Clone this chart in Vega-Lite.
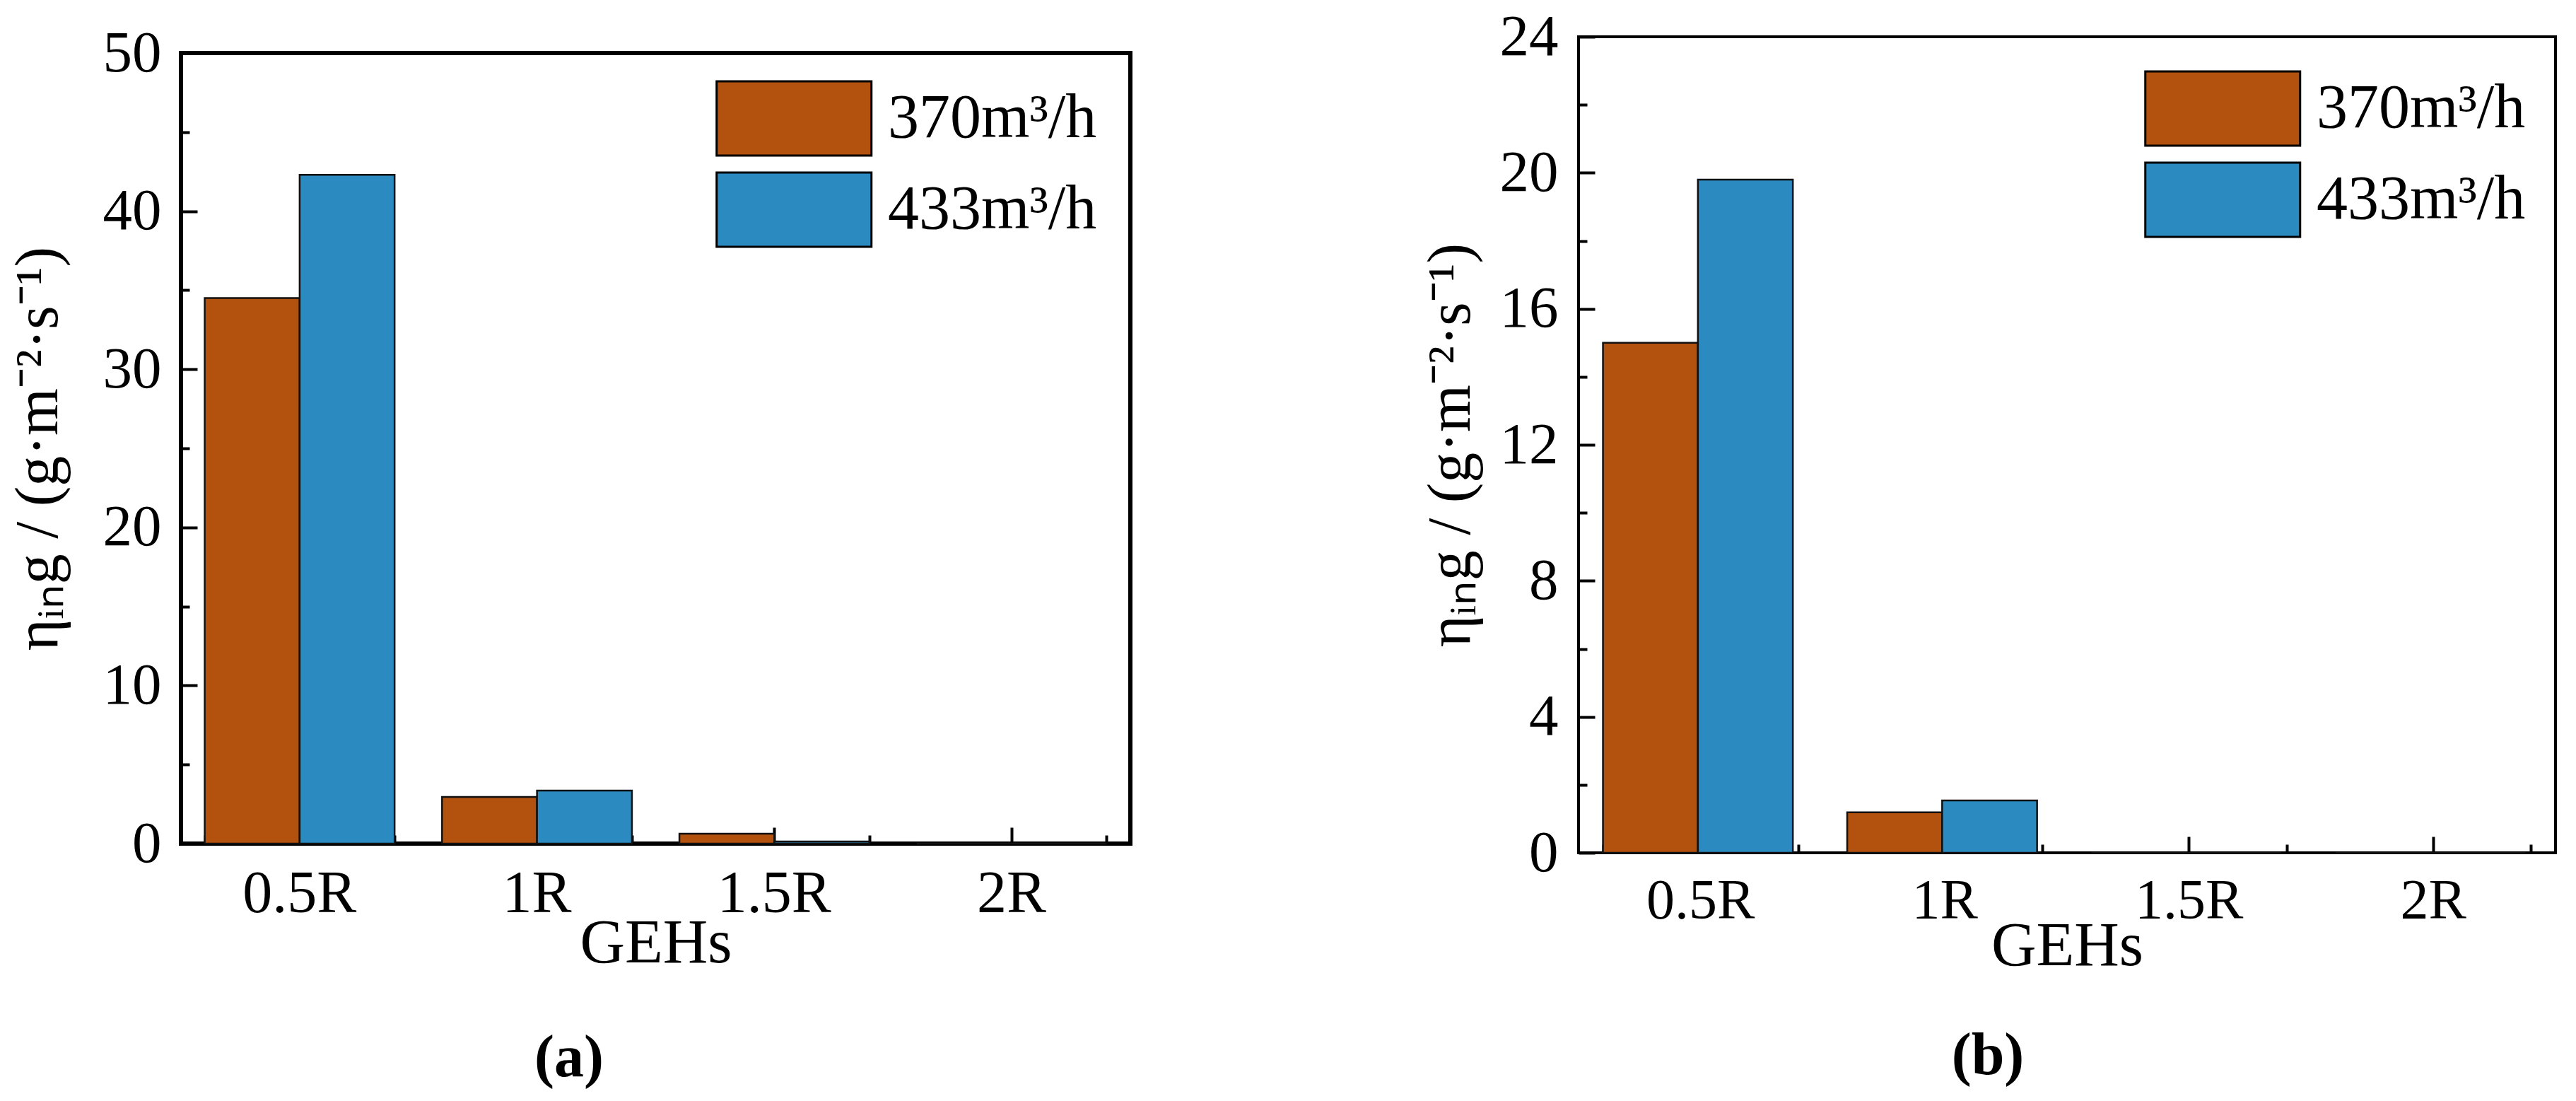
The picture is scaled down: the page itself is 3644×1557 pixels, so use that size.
{
  "$schema": "https://vega.github.io/schema/vega-lite/v6.json",
  "padding": {"left": 8, "top": 9, "right": 0, "bottom": 0},
  "data": {
    "values": [
      {"panel": "a", "geh": "0.5R", "flow": "370m³/h", "value": 34.5},
      {"panel": "a", "geh": "0.5R", "flow": "433m³/h", "value": 42.3},
      {"panel": "a", "geh": "1R", "flow": "370m³/h", "value": 2.95},
      {"panel": "a", "geh": "1R", "flow": "433m³/h", "value": 3.35},
      {"panel": "a", "geh": "1.5R", "flow": "370m³/h", "value": 0.63},
      {"panel": "a", "geh": "1.5R", "flow": "433m³/h", "value": 0.13},
      {"panel": "a", "geh": "2R", "flow": "370m³/h", "value": 0},
      {"panel": "a", "geh": "2R", "flow": "433m³/h", "value": 0},
      {"panel": "b", "geh": "0.5R", "flow": "370m³/h", "value": 15.0},
      {"panel": "b", "geh": "0.5R", "flow": "433m³/h", "value": 19.8},
      {"panel": "b", "geh": "1R", "flow": "370m³/h", "value": 1.19},
      {"panel": "b", "geh": "1R", "flow": "433m³/h", "value": 1.54},
      {"panel": "b", "geh": "1.5R", "flow": "370m³/h", "value": 0},
      {"panel": "b", "geh": "1.5R", "flow": "433m³/h", "value": 0},
      {"panel": "b", "geh": "2R", "flow": "370m³/h", "value": 0},
      {"panel": "b", "geh": "2R", "flow": "433m³/h", "value": 0}
    ]
  },
  "align": "none",
  "spacing": 405,
  "resolve": {"scale": {"color": "independent"}},
  "hconcat": [
    {
      "bounds": "flush",
      "spacing": 0,
      "resolve": {"scale": {"color": "independent"}},
      "vconcat": [
        {
          "width": 1343,
          "height": 23,
          "data": {"values": []},
          "mark": "point",
          "encoding": {},
          "view": {"stroke": null}
        },
        {
          "width": 1343,
          "height": 1118,
          "view": {"stroke": "black", "strokeWidth": 6},
          "title": {"text": "(a)", "orient": "bottom", "anchor": "middle", "frame": "bounds", "fontSize": 84, "fontWeight": "bold", "offset": 78, "color": "black"},
          "transform": [{"filter": "datum.panel === 'a'"}],
          "layer": [
            {
              "mark": {"type": "bar", "stroke": "#111111", "strokeWidth": 2.5},
              "encoding": {
                "x": {"field": "geh", "type": "nominal", "sort": ["0.5R", "1R", "1.5R", "2R"],
                  "scale": {"paddingInner": 0.2, "paddingOuter": 0.1},
                  "axis": {"orient": "bottom", "title": "GEHs", "labelAngle": 0, "domain": false, "tickSize": -23, "tickWidth": 4, "tickColor": "black",
                    "labelPadding": 53, "labelFontSize": 84, "labelColor": "black", "titleFontSize": 88, "titleFontWeight": "normal", "titleColor": "black", "titlePadding": -16}},
                "xOffset": {"field": "flow", "type": "nominal", "scale": {"paddingInner": 0, "paddingOuter": 0}},
                "y": {"field": "value", "type": "quantitative", "scale": {"domain": [0, 50], "nice": false},
                  "axis": {"orient": "left", "values": [0, 10, 20, 30, 40, 50], "grid": false, "domain": false, "tickSize": -23, "tickWidth": 4, "tickColor": "black",
                    "labelPadding": 51, "labelFontSize": 83, "labelColor": "black", "labelOverlap": false,
                    "title": "ηᵢₙg / (g·m⁻²·s⁻¹)", "titleFontSize": 86, "titleFontWeight": "normal", "titleColor": "black", "titlePadding": 47}},
                "color": {"field": "flow", "type": "nominal",
                  "scale": {"domain": ["370m³/h", "433m³/h"], "range": ["#B3510E", "#2B8AC0"]},
                  "legend": {"title": null, "orient": "none", "legendX": 756, "legendY": 36, "padding": 0, "labelFontSize": 88, "labelColor": "black", "labelLimit": 600,
                    "symbolType": "M-1,-0.96H3V0.96H-1Z", "symbolSize": 11990, "symbolStrokeColor": "black", "symbolStrokeWidth": 3, "symbolOpacity": 1,
                    "labelOffset": 131, "rowPadding": 10}}
              }
            },
            {
              "mark": {"type": "bar", "opacity": 0},
              "encoding": {
                "x": {"field": "geh", "type": "nominal", "sort": ["0.5R", "1R", "1.5R", "2R"],
                  "axis": {"orient": "bottom", "title": null, "labels": false, "domain": false, "tickBand": "extent", "tickSize": -12, "tickWidth": 4, "tickColor": "black"}},
                "xOffset": {"field": "flow", "type": "nominal"},
                "y": {"field": "value", "type": "quantitative",
                  "axis": {"orient": "left", "title": null, "values": [5, 15, 25, 35, 45], "labels": false, "grid": false, "domain": false, "tickSize": -12, "tickWidth": 4, "tickColor": "black"}}
              }
            }
          ],
          "resolve": {"axis": {"x": "independent", "y": "independent"}}
        }
      ]
    },
    {
      "resolve": {"scale": {"color": "independent"}},
      "vconcat": [
        {
          "width": 1382,
          "height": 1154,
          "view": {"stroke": "black", "strokeWidth": 4},
          "title": {"text": "(b)", "orient": "bottom", "anchor": "middle", "frame": "bounds", "fontSize": 84, "fontWeight": "bold", "offset": 71, "color": "black"},
          "transform": [{"filter": "datum.panel === 'b'"}],
          "layer": [
            {
              "mark": {"type": "bar", "stroke": "#111111", "strokeWidth": 2.5},
              "encoding": {
                "x": {"field": "geh", "type": "nominal", "sort": ["0.5R", "1R", "1.5R", "2R"],
                  "scale": {"paddingInner": 0.2, "paddingOuter": 0.1},
                  "axis": {"orient": "bottom", "title": "GEHs", "labelAngle": 0, "domain": false, "tickSize": -23, "tickWidth": 4, "tickColor": "black",
                    "labelPadding": 52, "labelFontSize": 80, "labelColor": "black", "titleFontSize": 88, "titleFontWeight": "normal", "titleColor": "black", "titlePadding": -20}},
                "xOffset": {"field": "flow", "type": "nominal", "scale": {"paddingInner": 0, "paddingOuter": 0}},
                "y": {"field": "value", "type": "quantitative", "scale": {"domain": [0, 24], "nice": false},
                  "axis": {"orient": "left", "values": [0, 4, 8, 12, 16, 20, 24], "grid": false, "domain": false, "tickSize": -23, "tickWidth": 4, "tickColor": "black",
                    "labelPadding": 52, "labelFontSize": 83, "labelColor": "black", "labelOverlap": false,
                    "title": "ηᵢₙg / (g·m⁻²·s⁻¹)", "titleFontSize": 86, "titleFontWeight": "normal", "titleColor": "black", "titlePadding": 25}},
                "color": {"field": "flow", "type": "nominal",
                  "scale": {"domain": ["370m³/h", "433m³/h"], "range": ["#B3510E", "#2B8AC0"]},
                  "legend": {"title": null, "orient": "none", "legendX": 800, "legendY": 45, "padding": 0, "labelFontSize": 88, "labelColor": "black", "labelLimit": 600,
                    "symbolType": "M-1,-0.96H3V0.96H-1Z", "symbolSize": 11990, "symbolStrokeColor": "black", "symbolStrokeWidth": 3, "symbolOpacity": 1,
                    "labelOffset": 131, "rowPadding": 10}}
              }
            },
            {
              "mark": {"type": "bar", "opacity": 0},
              "encoding": {
                "x": {"field": "geh", "type": "nominal", "sort": ["0.5R", "1R", "1.5R", "2R"],
                  "axis": {"orient": "bottom", "title": null, "labels": false, "domain": false, "tickBand": "extent", "tickSize": -12, "tickWidth": 4, "tickColor": "black"}},
                "xOffset": {"field": "flow", "type": "nominal"},
                "y": {"field": "value", "type": "quantitative",
                  "axis": {"orient": "left", "title": null, "values": [2, 6, 10, 14, 18, 22], "labels": false, "grid": false, "domain": false, "tickSize": -12, "tickWidth": 4, "tickColor": "black"}}
              }
            }
          ],
          "resolve": {"axis": {"x": "independent", "y": "independent"}}
        }
      ]
    }
  ],
  "config": {
    "font": "Liberation Serif",
    "background": "white"
  }
}
